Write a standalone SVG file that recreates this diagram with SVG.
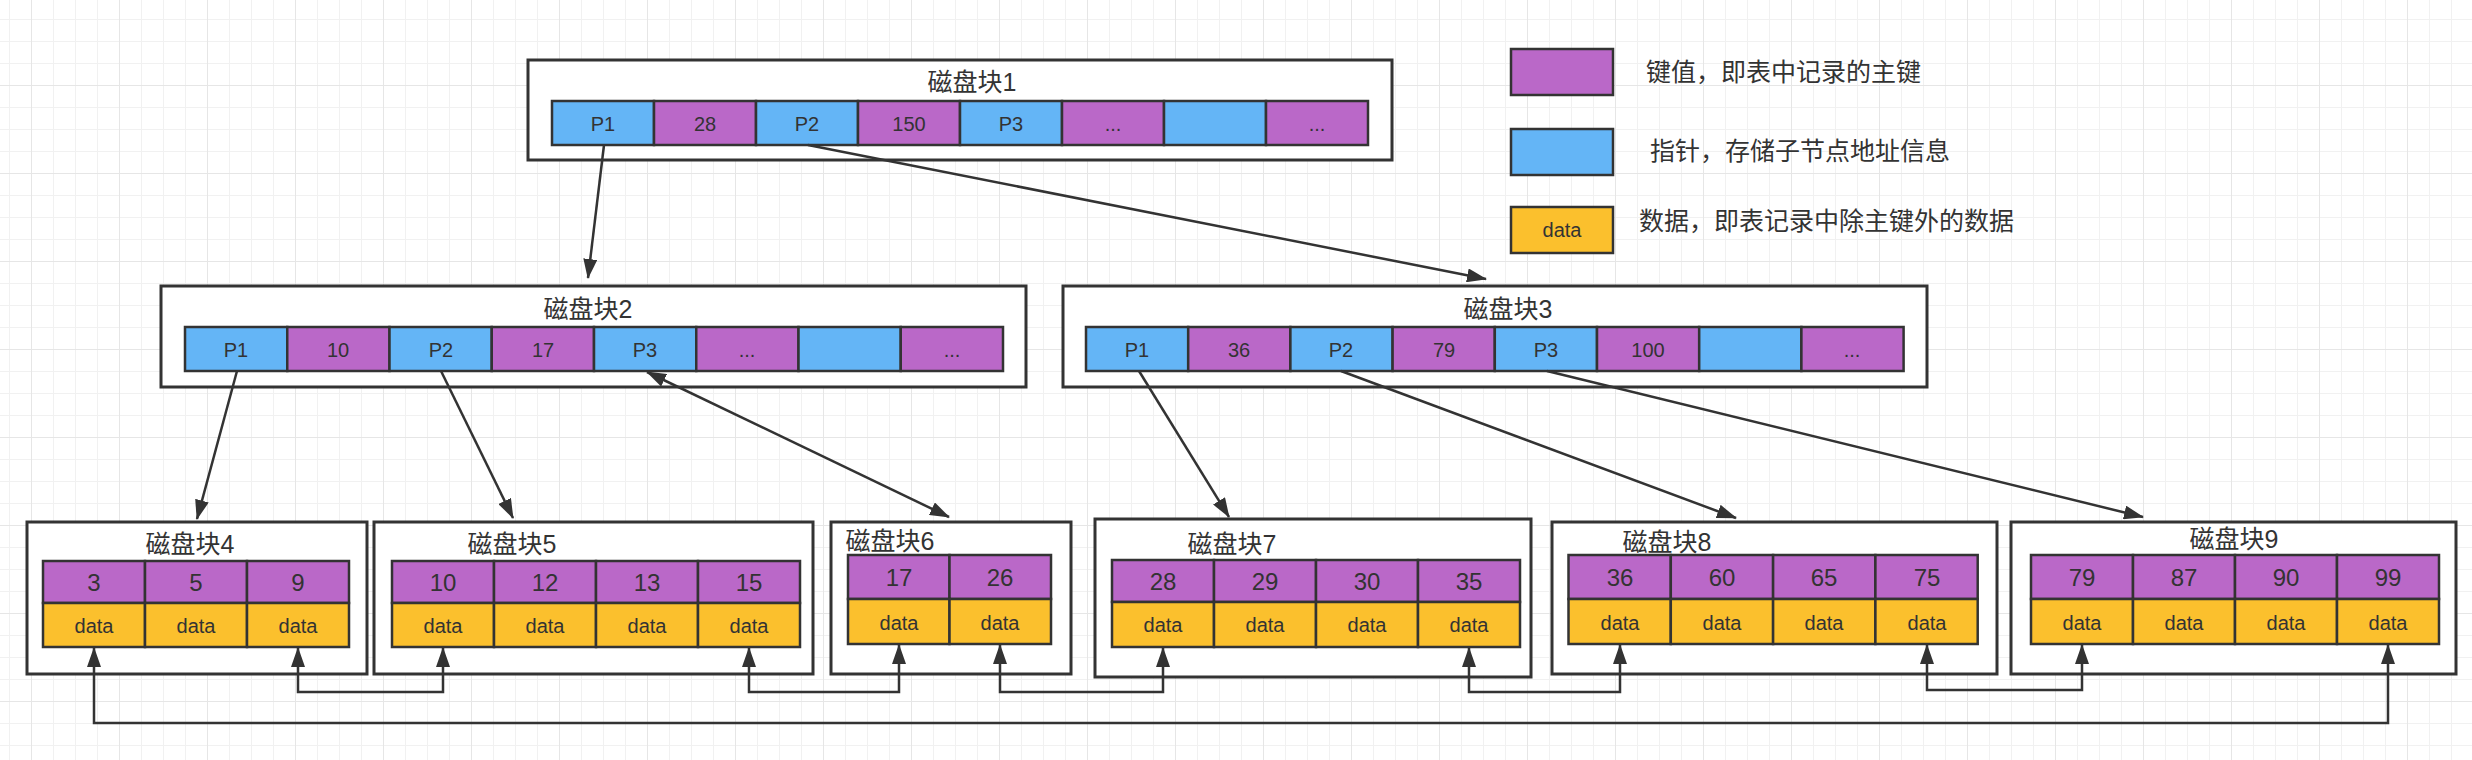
<svg xmlns="http://www.w3.org/2000/svg" width="2472" height="760" viewBox="0 0 2472 760">
<style>
.box{fill:#ffffff;stroke:#333333;stroke-width:3}
.k{fill:#BA68C8;stroke:#333333;stroke-width:2.5}
.p{fill:#64B5F6;stroke:#333333;stroke-width:2.5}
.d{fill:#FBC02D;stroke:#333333;stroke-width:2.5}
text{font-family:"Liberation Sans","Noto Sans CJK SC",sans-serif;fill:#333333}
.t{font-size:25px;text-anchor:middle}
.c{font-size:20px;text-anchor:middle}
.n{font-size:24px;text-anchor:middle}
.lg{font-size:25px}
.ln{fill:none;stroke:#333333;stroke-width:2.5}
</style>
<defs>
<pattern id="gmin" patternUnits="userSpaceOnUse" x="9" y="19" width="22" height="22">
<path d="M0,0 H22 M0,0 V22" fill="none" stroke="#f1f1f1" stroke-width="2"/>
</pattern>
<pattern id="gmaj" patternUnits="userSpaceOnUse" x="31" y="85" width="88" height="88">
<path d="M0,0 H88 M0,0 V88" fill="none" stroke="#e6e6e6" stroke-width="2"/>
</pattern>
<marker id="arr" viewBox="0 0 20 14" refX="19" refY="7" markerWidth="20" markerHeight="14" markerUnits="userSpaceOnUse" orient="auto-start-reverse">
<path d="M0,0 L20,7 L0,14 Z" fill="#333333"/>
</marker>
</defs>
<rect x="0" y="0" width="2472" height="760" fill="#ffffff"/>
<rect x="0" y="0" width="2472" height="760" fill="url(#gmin)"/>
<rect x="0" y="0" width="2472" height="760" fill="url(#gmaj)"/>

<g id="legend">
<rect class="k" x="1511" y="49" width="102" height="46"/>
<text class="lg" x="1646" y="81">键值，即表中记录的主键</text>
<rect class="p" x="1511" y="129" width="102" height="46"/>
<text class="lg" x="1650" y="160">指针，存储子节点地址信息</text>
<rect class="d" x="1511" y="207" width="102" height="46"/>
<text class="c" x="1562" y="237">data</text>
<text class="lg" x="1639" y="230">数据，即表记录中除主键外的数据</text>
</g>

<g id="block1">
<rect class="box" x="528" y="60" width="864" height="100"/>
<text class="t" x="972" y="91">磁盘块1</text>
<rect class="p" x="552" y="101" width="102" height="44"/>
<rect class="k" x="654" y="101" width="102" height="44"/>
<rect class="p" x="756" y="101" width="102" height="44"/>
<rect class="k" x="858" y="101" width="102" height="44"/>
<rect class="p" x="960" y="101" width="102" height="44"/>
<rect class="k" x="1062" y="101" width="102" height="44"/>
<rect class="p" x="1164" y="101" width="102" height="44"/>
<rect class="k" x="1266" y="101" width="102" height="44"/>
<text class="c" x="603" y="131">P1</text>
<text class="c" x="705" y="131">28</text>
<text class="c" x="807" y="131">P2</text>
<text class="c" x="909" y="131">150</text>
<text class="c" x="1011" y="131">P3</text>
<text class="c" x="1113" y="131">...</text>
<text class="c" x="1317" y="131">...</text>
</g>

<g id="block2">
<rect class="box" x="161" y="286" width="865" height="101"/>
<text class="t" x="588" y="318">磁盘块2</text>
<rect class="p" x="185" y="327" width="102.25" height="44"/>
<rect class="k" x="287.25" y="327" width="102.25" height="44"/>
<rect class="p" x="389.5" y="327" width="102.25" height="44"/>
<rect class="k" x="491.75" y="327" width="102.25" height="44"/>
<rect class="p" x="594" y="327" width="102.25" height="44"/>
<rect class="k" x="696.25" y="327" width="102.25" height="44"/>
<rect class="p" x="798.5" y="327" width="102.25" height="44"/>
<rect class="k" x="900.75" y="327" width="102.25" height="44"/>
<text class="c" x="236" y="357">P1</text>
<text class="c" x="338" y="357">10</text>
<text class="c" x="441" y="357">P2</text>
<text class="c" x="543" y="357">17</text>
<text class="c" x="645" y="357">P3</text>
<text class="c" x="747" y="357">...</text>
<text class="c" x="952" y="357">...</text>
</g>

<g id="block3">
<rect class="box" x="1063" y="286" width="864" height="101"/>
<text class="t" x="1508" y="318">磁盘块3</text>
<rect class="p" x="1086" y="327" width="102.2" height="44"/>
<rect class="k" x="1188.2" y="327" width="102.2" height="44"/>
<rect class="p" x="1290.4" y="327" width="102.2" height="44"/>
<rect class="k" x="1392.6" y="327" width="102.2" height="44"/>
<rect class="p" x="1494.8" y="327" width="102.2" height="44"/>
<rect class="k" x="1597" y="327" width="102.2" height="44"/>
<rect class="p" x="1699.2" y="327" width="102.2" height="44"/>
<rect class="k" x="1801.4" y="327" width="102.2" height="44"/>
<text class="c" x="1137" y="357">P1</text>
<text class="c" x="1239" y="357">36</text>
<text class="c" x="1341" y="357">P2</text>
<text class="c" x="1444" y="357">79</text>
<text class="c" x="1546" y="357">P3</text>
<text class="c" x="1648" y="357">100</text>
<text class="c" x="1852" y="357">...</text>
</g>

<g id="block4">
<rect class="box" x="27" y="522" width="340" height="152"/>
<text class="t" x="190" y="553">磁盘块4</text>
<rect class="k" x="43" y="561" width="102" height="42"/>
<rect class="k" x="145" y="561" width="102" height="42"/>
<rect class="k" x="247" y="561" width="102" height="42"/>
<rect class="d" x="43" y="603" width="102" height="44"/>
<rect class="d" x="145" y="603" width="102" height="44"/>
<rect class="d" x="247" y="603" width="102" height="44"/>
<text class="n" x="94" y="591">3</text>
<text class="n" x="196" y="591">5</text>
<text class="n" x="298" y="591">9</text>
<text class="c" x="94" y="633">data</text>
<text class="c" x="196" y="633">data</text>
<text class="c" x="298" y="633">data</text>
</g>

<g id="block5">
<rect class="box" x="374" y="522" width="439" height="152"/>
<text class="t" x="512" y="553">磁盘块5</text>
<rect class="k" x="392" y="561" width="102" height="42"/>
<rect class="k" x="494" y="561" width="102" height="42"/>
<rect class="k" x="596" y="561" width="102" height="42"/>
<rect class="k" x="698" y="561" width="102" height="42"/>
<rect class="d" x="392" y="603" width="102" height="44"/>
<rect class="d" x="494" y="603" width="102" height="44"/>
<rect class="d" x="596" y="603" width="102" height="44"/>
<rect class="d" x="698" y="603" width="102" height="44"/>
<text class="n" x="443" y="591">10</text>
<text class="n" x="545" y="591">12</text>
<text class="n" x="647" y="591">13</text>
<text class="n" x="749" y="591">15</text>
<text class="c" x="443" y="633">data</text>
<text class="c" x="545" y="633">data</text>
<text class="c" x="647" y="633">data</text>
<text class="c" x="749" y="633">data</text>
</g>

<g id="block6">
<rect class="box" x="831" y="522" width="240" height="152"/>
<text class="t" x="890" y="550">磁盘块6</text>
<rect class="k" x="848" y="555" width="101.5" height="44"/>
<rect class="k" x="949.5" y="555" width="101.5" height="44"/>
<rect class="d" x="848" y="599" width="101.5" height="45"/>
<rect class="d" x="949.5" y="599" width="101.5" height="45"/>
<text class="n" x="899" y="586">17</text>
<text class="n" x="1000" y="586">26</text>
<text class="c" x="899" y="630">data</text>
<text class="c" x="1000" y="630">data</text>
</g>

<g id="block7">
<rect class="box" x="1095" y="519" width="436" height="158"/>
<text class="t" x="1232" y="553">磁盘块7</text>
<rect class="k" x="1112" y="560" width="102" height="42"/>
<rect class="k" x="1214" y="560" width="102" height="42"/>
<rect class="k" x="1316" y="560" width="102" height="42"/>
<rect class="k" x="1418" y="560" width="102" height="42"/>
<rect class="d" x="1112" y="602" width="102" height="45"/>
<rect class="d" x="1214" y="602" width="102" height="45"/>
<rect class="d" x="1316" y="602" width="102" height="45"/>
<rect class="d" x="1418" y="602" width="102" height="45"/>
<text class="n" x="1163" y="590">28</text>
<text class="n" x="1265" y="590">29</text>
<text class="n" x="1367" y="590">30</text>
<text class="n" x="1469" y="590">35</text>
<text class="c" x="1163" y="632">data</text>
<text class="c" x="1265" y="632">data</text>
<text class="c" x="1367" y="632">data</text>
<text class="c" x="1469" y="632">data</text>
</g>

<g id="block8">
<rect class="box" x="1552" y="522" width="445" height="152"/>
<text class="t" x="1667" y="551">磁盘块8</text>
<rect class="k" x="1568.5" y="555" width="102.3" height="44"/>
<rect class="k" x="1670.8" y="555" width="102.3" height="44"/>
<rect class="k" x="1773.1" y="555" width="102.3" height="44"/>
<rect class="k" x="1875.4" y="555" width="102.3" height="44"/>
<rect class="d" x="1568.5" y="599" width="102.3" height="45"/>
<rect class="d" x="1670.8" y="599" width="102.3" height="45"/>
<rect class="d" x="1773.1" y="599" width="102.3" height="45"/>
<rect class="d" x="1875.4" y="599" width="102.3" height="45"/>
<text class="n" x="1620" y="586">36</text>
<text class="n" x="1722" y="586">60</text>
<text class="n" x="1824" y="586">65</text>
<text class="n" x="1927" y="586">75</text>
<text class="c" x="1620" y="630">data</text>
<text class="c" x="1722" y="630">data</text>
<text class="c" x="1824" y="630">data</text>
<text class="c" x="1927" y="630">data</text>
</g>

<g id="block9">
<rect class="box" x="2011" y="522" width="445" height="152"/>
<text class="t" x="2234" y="548">磁盘块9</text>
<rect class="k" x="2031" y="555" width="102" height="44"/>
<rect class="k" x="2133" y="555" width="102" height="44"/>
<rect class="k" x="2235" y="555" width="102" height="44"/>
<rect class="k" x="2337" y="555" width="102" height="44"/>
<rect class="d" x="2031" y="599" width="102" height="45"/>
<rect class="d" x="2133" y="599" width="102" height="45"/>
<rect class="d" x="2235" y="599" width="102" height="45"/>
<rect class="d" x="2337" y="599" width="102" height="45"/>
<text class="n" x="2082" y="586">79</text>
<text class="n" x="2184" y="586">87</text>
<text class="n" x="2286" y="586">90</text>
<text class="n" x="2388" y="586">99</text>
<text class="c" x="2082" y="630">data</text>
<text class="c" x="2184" y="630">data</text>
<text class="c" x="2286" y="630">data</text>
<text class="c" x="2388" y="630">data</text>
</g>

<g id="connectors">
<line class="ln" x1="604" y1="145" x2="588" y2="278" marker-end="url(#arr)"/>
<line class="ln" x1="808" y1="145" x2="1486" y2="279" marker-end="url(#arr)"/>
<line class="ln" x1="237" y1="371" x2="197" y2="519" marker-end="url(#arr)"/>
<line class="ln" x1="441" y1="371" x2="513" y2="518" marker-end="url(#arr)"/>
<line class="ln" x1="647" y1="372" x2="949" y2="517" marker-start="url(#arr)" marker-end="url(#arr)"/>
<line class="ln" x1="1139" y1="371" x2="1229" y2="517" marker-end="url(#arr)"/>
<line class="ln" x1="1341" y1="371" x2="1736" y2="518" marker-end="url(#arr)"/>
<line class="ln" x1="1547" y1="371" x2="2143" y2="517" marker-end="url(#arr)"/>
<polyline class="ln" points="94,648 94,723 2388,723 2388,645" marker-start="url(#arr)" marker-end="url(#arr)"/>
<polyline class="ln" points="298,648 298,692 443,692 443,648" marker-start="url(#arr)" marker-end="url(#arr)"/>
<polyline class="ln" points="749,648 749,692 899,692 899,645" marker-start="url(#arr)" marker-end="url(#arr)"/>
<polyline class="ln" points="1000,645 1000,692 1163,692 1163,648" marker-start="url(#arr)" marker-end="url(#arr)"/>
<polyline class="ln" points="1469,648 1469,692 1620,692 1620,645" marker-start="url(#arr)" marker-end="url(#arr)"/>
<polyline class="ln" points="1927,645 1927,690 2082,690 2082,645" marker-start="url(#arr)" marker-end="url(#arr)"/>
</g>
</svg>
